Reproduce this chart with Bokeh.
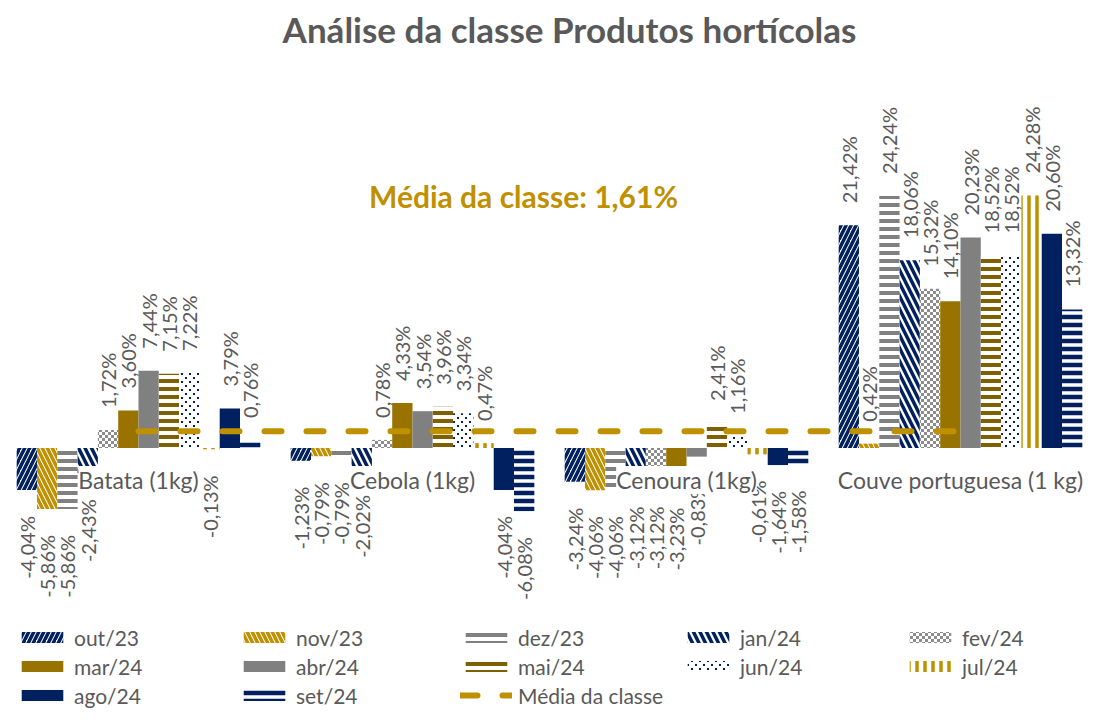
import base64
from bokeh.plotting import figure
from bokeh.models import (ColumnDataSource, Label, Legend, LegendItem, Range1d,
                          ImageURLTexture)
from bokeh.core.properties import value
from bokeh.transform import dodge
from bokeh.embed import file_html
from bokeh.resources import INLINE

# ---------------- data ----------------
categories = ["Batata (1kg)", "Cebola (1kg)", "Cenoura (1kg)", "Couve portuguesa (1 kg)"]
months = ["out/23", "nov/23", "dez/23", "jan/24", "fev/24", "mar/24",
          "abr/24", "mai/24", "jun/24", "jul/24", "ago/24", "set/24"]
out_23 = [-4.04, -1.23, -3.24, 21.42]
nov_23 = [-5.86, -0.79, -4.06, 0.42]
dez_23 = [-5.86, -0.79, -4.06, 24.24]
jan_24 = [-2.43, -2.02, -3.12, 18.06]
fev_24 = [1.72, 0.78, -3.12, 15.32]
mar_24 = [3.60, 4.33, -3.23, 14.10]
abr_24 = [7.44, 3.54, -0.83, 20.23]
mai_24 = [7.15, 3.96, 2.41, 18.52]
jun_24 = [7.22, 3.34, 1.16, 18.52]
jul_24 = [-0.13, 0.47, -0.61, 24.28]
ago_24 = [3.79, -4.04, -1.64, 20.60]
set_24 = [0.76, -6.08, -1.58, 13.32]
media_classe = 1.61
media_label = "Média da classe"
title_text = "Análise da classe Produtos hortícolas"

series = [out_23, nov_23, dez_23, jan_24, fev_24, mar_24,
          abr_24, mai_24, jun_24, jul_24, ago_24, set_24]

# ---------------- styles ----------------
NAVY = "#002060"
GOLD = "#BF9000"
BROWN = "#997300"
DBROWN = "#7F6000"
GREY = "#808080"
TXT = "#595959"
FONT = "Lato"


def svg_texture(body, size):
    svg = (f"<svg xmlns='http://www.w3.org/2000/svg' width='{size}' height='{size}'>"
           f"<rect width='{size}' height='{size}' fill='#ffffff'/>{body}</svg>")
    url = "data:image/svg+xml;base64," + base64.b64encode(svg.encode()).decode()
    return ImageURLTexture(url=url, repetition="repeat")


checker = svg_texture("<rect width='3' height='3' fill='#8c8c8c'/>"
                      "<rect x='3' y='3' width='3' height='3' fill='#8c8c8c'/>", 6)
dots = svg_texture(f"<rect x='1' y='1' width='2' height='2' fill='{NAVY}'/>"
                   f"<rect x='5' y='5' width='2' height='2' fill='{NAVY}'/>", 8)

styles = [
    dict(fill_color="white", hatch_pattern="/", hatch_color=NAVY, hatch_scale=10, hatch_weight=3.5),
    dict(fill_color="white", hatch_pattern="\\", hatch_color=GOLD, hatch_scale=10, hatch_weight=3.5),
    dict(fill_color="white", hatch_pattern="-", hatch_color=GREY, hatch_scale=8, hatch_weight=4),
    dict(fill_color="white", hatch_pattern="\\", hatch_color=NAVY, hatch_scale=13, hatch_weight=3.5),
    dict(fill_color="white", hatch_pattern=value("checker"), hatch_extra={"checker": checker}),
    dict(fill_color=BROWN),
    dict(fill_color=GREY),
    dict(fill_color="white", hatch_pattern="-", hatch_color=DBROWN, hatch_scale=8, hatch_weight=4),
    dict(fill_color="white", hatch_pattern=value("dots"), hatch_extra={"dots": dots}),
    dict(fill_color="white", hatch_pattern="|", hatch_color=GOLD, hatch_scale=8, hatch_weight=3.5),
    dict(fill_color=NAVY),
    dict(fill_color="white", hatch_pattern="-", hatch_color=NAVY, hatch_scale=8, hatch_weight=4.5),
]

W, H = 1083, 710
p = figure(width=W, height=H, output_backend="svg", toolbar_location=None, tools="",
           x_range=Range1d(-0.00365, 3.9489), y_range=Range1d(-25.24, 43.03),
           x_axis_location=None, y_axis_location=None, min_border=0)
p.outline_line_color = None
p.background_fill_color = "white"
p.border_fill_color = "white"
p.grid.grid_line_color = None
p.xgrid.visible = False
p.ygrid.visible = False

cat_x = [i + 0.5 for i in range(len(categories))]
bw = 0.0741

renderers = []
pos = dict(x=[], y=[], t=[])
neg = dict(x=[], y=[], t=[])


def fmt(v):
    return f"{v:.2f}".replace(".", ",") + "%"


for j, (m, vals, st) in enumerate(zip(months, series, styles)):
    off = (j - (len(months) - 1) / 2) * bw
    src = ColumnDataSource(dict(x=cat_x, top=vals))
    r = p.vbar(x=dodge("x", off, range=p.x_range), top="top", bottom=0, width=bw,
               line_color=None, source=src, **st)
    renderers.append(r)
    for cx, v in zip(cat_x, vals):
        d = pos if v >= 0 else neg
        d["x"].append(cx + off)
        d["y"].append(v)
        d["t"].append(fmt(v))

line_r = p.line(x=cat_x, y=[media_classe] * len(cat_x), line_color=GOLD, line_width=6,
                line_dash="17 25", line_cap="round")

p.text(x="x", y="y", text="t", source=ColumnDataSource(pos), angle=1.5708,
       text_align="left", text_baseline="middle", y_offset=-22,
       text_font=value(FONT), text_font_size="20px", text_color=TXT)
p.text(x="x", y="y", text="t", source=ColumnDataSource(neg), angle=1.5708,
       text_align="right", text_baseline="middle", y_offset=26,
       text_font=value(FONT), text_font_size="20px", text_color=TXT)

cat_src = ColumnDataSource(dict(x=cat_x, y=[0] * len(cat_x), t=categories))
p.text(x="x", y="y", text="t", source=cat_src, text_align="center", text_baseline="middle",
       y_offset=32, text_font=value(FONT), text_font_size="23px", text_color=TXT,
       background_fill_color="white")

p.add_layout(Label(x=569, y=682, x_units="screen", y_units="screen", text=title_text,
                   text_align="center", text_baseline="middle", text_font=FONT,
                   text_font_style="bold", text_font_size="35px", text_color=TXT))
p.add_layout(Label(x=523, y=515, x_units="screen", y_units="screen",
                   text=f"{media_label}: {fmt(media_classe)}",
                   text_align="center", text_baseline="middle", text_font=FONT,
                   text_font_style="bold", text_font_size="30px", text_color=GOLD))

items = [LegendItem(label=m, renderers=[r]) for m, r in zip(months, renderers)]
items.append(LegendItem(label=media_label, renderers=[line_r]))
legend = Legend(items=items, location=(16, 2), orientation="horizontal", ncols=5,
                glyph_width=52, glyph_height=14, label_width=161, label_height=26,
                label_standoff=6, spacing=3, padding=0, margin=0,
                border_line_color=None, background_fill_alpha=0,
                label_text_font=FONT, label_text_font_size="21px", label_text_color=TXT)
p.add_layout(legend)

open("out.html", "w").write(file_html(p, INLINE))
